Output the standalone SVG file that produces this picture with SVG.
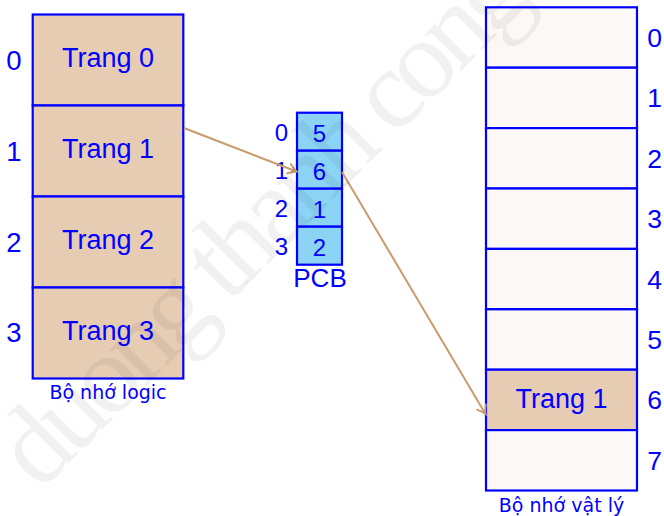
<svg xmlns="http://www.w3.org/2000/svg" width="664" height="516" viewBox="0 0 664 516">
<defs>
<style>
.lg{fill:#e6ccb3;stroke:#0000ff;stroke-width:2.2}
.ph{fill:#fbf8f5;stroke:#0000ff;stroke-width:2.2}
.pc{fill:#8cd4f5;stroke:#0000ff;stroke-width:2.2}
.t{font-family:"Liberation Sans",Arial,sans-serif;fill:#0000ff;text-anchor:middle}
.big{font-size:27px}
.idx{font-size:27.5px}
.pidx{font-size:24px}
.pn{font-size:26.5px}
.cap{font-family:"DejaVu Sans",sans-serif;font-size:19px;fill:#0000ff;text-anchor:middle}
.conn{stroke:#c89c6c;stroke-width:2;fill:none}
</style>
<marker id="arr" viewBox="-9 -6 10 12" refX="0" refY="0" markerWidth="10" markerHeight="12" markerUnits="userSpaceOnUse" orient="auto" overflow="visible">
<path d="M-8,-5 Q-3,-1.2 0,0 Q-3,1.2 -8,5" fill="none" stroke="#c89c6c" stroke-width="1.9" stroke-linecap="round"/>
</marker>
</defs>
<rect width="664" height="516" fill="#ffffff"/>

<g id="logic-memory">
<g id="logic-0"><rect class="lg" x="32.7" y="14.5" width="150.6" height="91"/><text class="t big" x="108" y="67">Trang 0</text><text class="t idx" x="14" y="70">0</text></g>
<g id="logic-1"><rect class="lg" x="32.7" y="105.5" width="150.6" height="91"/><text class="t big" x="108" y="158">Trang 1</text><text class="t idx" x="14" y="161">1</text></g>
<g id="logic-2"><rect class="lg" x="32.7" y="196.5" width="150.6" height="91"/><text class="t big" x="108" y="249">Trang 2</text><text class="t idx" x="14" y="252">2</text></g>
<g id="logic-3"><rect class="lg" x="32.7" y="287.5" width="150.6" height="91"/><text class="t big" x="108" y="340">Trang 3</text><text class="t idx" x="14" y="342">3</text></g>
<text class="cap" x="108" y="399.3">Bộ nhớ logic</text>
</g>

<g id="pcb">
<g id="pcb-0"><rect class="pc" x="297" y="112.7" width="45" height="38"/><text class="t pidx" x="319.5" y="141.5">5</text><text class="t pidx" x="281.5" y="141">0</text></g>
<g id="pcb-1"><rect class="pc" x="297" y="150.7" width="45" height="38"/><text class="t pidx" x="319.5" y="179.5">6</text><text class="t pidx" x="281.5" y="179">1</text></g>
<g id="pcb-2"><rect class="pc" x="297" y="188.7" width="45" height="38"/><text class="t pidx" x="319.5" y="217.5">1</text><text class="t pidx" x="281.5" y="217">2</text></g>
<g id="pcb-3"><rect class="pc" x="297" y="226.7" width="45" height="38"/><text class="t pidx" x="319.5" y="255.5">2</text><text class="t pidx" x="281.5" y="255">3</text></g>
<text class="t" style="font-size:26px" x="320" y="287.3">PCB</text>
</g>

<g id="physical-memory">
<g id="frame-0"><rect class="ph" x="486" y="7.3" width="151" height="60.4"/><text class="t pn" x="654.7" y="47">0</text></g>
<g id="frame-1"><rect class="ph" x="486" y="67.7" width="151" height="60.4"/><text class="t pn" x="654.7" y="107.4">1</text></g>
<g id="frame-2"><rect class="ph" x="486" y="128.1" width="151" height="60.4"/><text class="t pn" x="654.7" y="167.8">2</text></g>
<g id="frame-3"><rect class="ph" x="486" y="188.5" width="151" height="60.4"/><text class="t pn" x="654.7" y="228.2">3</text></g>
<g id="frame-4"><rect class="ph" x="486" y="248.9" width="151" height="60.4"/><text class="t pn" x="654.7" y="288.6">4</text></g>
<g id="frame-5"><rect class="ph" x="486" y="309.3" width="151" height="60.4"/><text class="t pn" x="654.7" y="349">5</text></g>
<g id="frame-6"><rect class="lg" x="486" y="369.7" width="151" height="60.4"/><text class="t big" x="561.5" y="408">Trang 1</text><text class="t pn" x="654.7" y="409.4">6</text></g>
<g id="frame-7"><rect class="ph" x="486" y="430.1" width="151" height="60.4"/><text class="t pn" x="654.7" y="469.8">7</text></g>
<text class="cap" x="561.5" y="511.7">Bộ nhớ vật lý</text>
</g>

<g id="connectors">
<line class="conn" x1="184" y1="128" x2="296.5" y2="171.5" marker-end="url(#arr)"/>
<line class="conn" x1="342" y1="172" x2="485.5" y2="414" marker-end="url(#arr)"/>
</g>

<text transform="translate(40,492) rotate(-45)" x="0" y="0" style="font-family:'Liberation Serif',serif;font-size:112px;letter-spacing:-7px;fill:#000;fill-opacity:0.055">duong thanh cong</text>
</svg>
